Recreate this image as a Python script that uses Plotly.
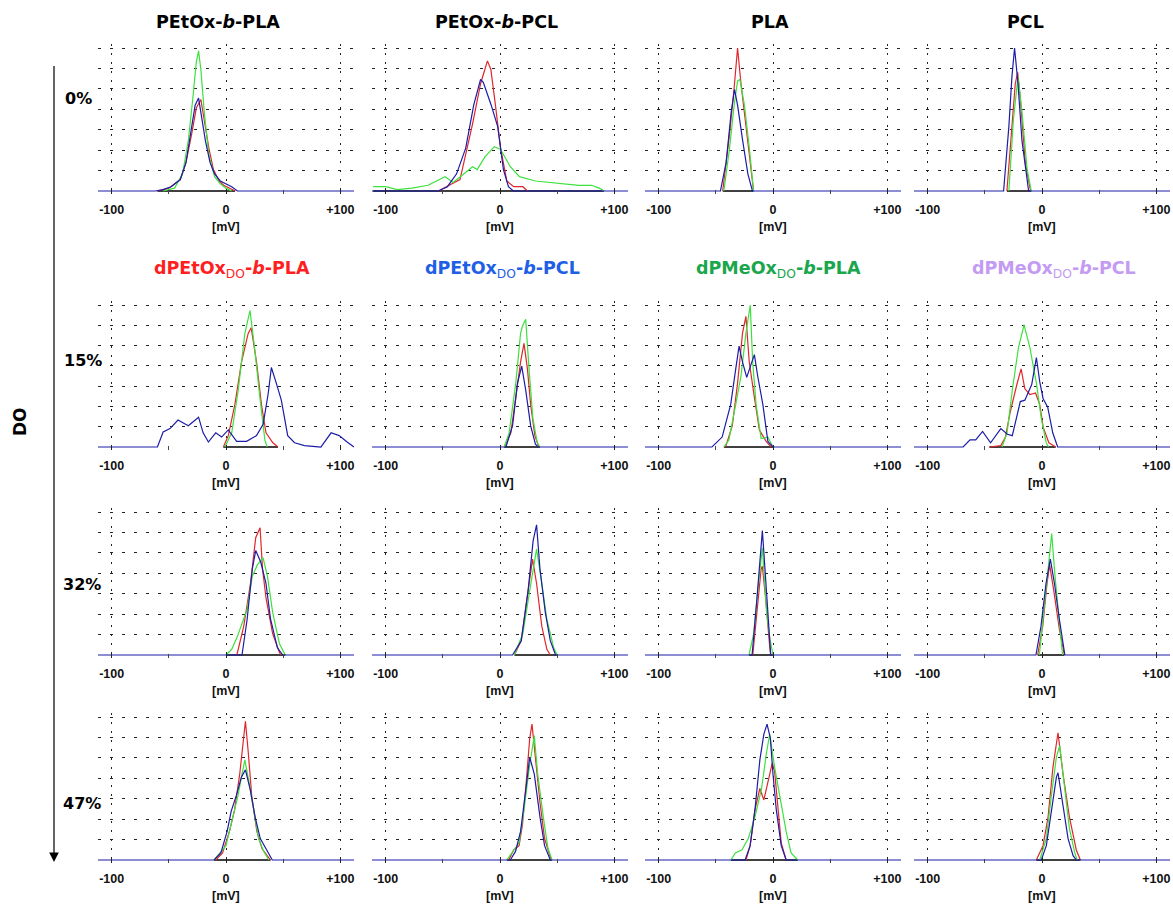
import plotly.graph_objects as go

W, H = 1173, 909

# ---------------- data (zeta potential in mV, normalized intensity) ----------------
# Row 0 (0 % DO)
r0c0_red_mv = [-60, -50, -40, -35, -30, -26, -22, -19, -15, -11, -6, -2, 3, 8]
r0c0_red_int = [0, 0.02, 0.08, 0.2, 0.4, 0.58, 0.64, 0.5, 0.3, 0.15, 0.07, 0.04, 0.02, 0]
r0c0_green_mv = [-55, -45, -38, -33, -29, -26, -24, -22, -19, -15, -10, -5, 0, 5]
r0c0_green_int = [0, 0.02, 0.12, 0.35, 0.65, 0.9, 0.98, 0.85, 0.55, 0.25, 0.1, 0.05, 0.02, 0]
r0c0_blue_mv = [-62, -55, -48, -40, -35, -31, -27, -24, -21, -18, -14, -10, -5, 0, 5, 10]
r0c0_blue_int = [0, 0.01, 0.03, 0.08, 0.2, 0.4, 0.6, 0.65, 0.5, 0.35, 0.2, 0.12, 0.07, 0.05, 0.03, 0]

r0c1_red_mv = [-54, -35, -24, -17, -11, -8, -4, 0.5, 6, 12, 20, 24]
r0c1_red_int = [0, 0.08, 0.47, 0.75, 0.91, 0.85, 0.6, 0.3, 0.07, 0.03, 0.03, 0]
r0c1_green_mv = [-111, -100, -90, -77, -63, -48, -41, -32, -24, -20, -13, -5, 0.5, 9, 17, 31, 42, 53, 69, 80, 87, 91]
r0c1_green_int = [0.03, 0.03, 0.01, 0.02, 0.04, 0.1, 0.06, 0.12, 0.17, 0.15, 0.24, 0.31, 0.29, 0.17, 0.1, 0.07, 0.06, 0.05, 0.04, 0.04, 0.02, 0]
r0c1_blue_mv = [-54, -46, -38, -30, -23, -17, -14.6, -7.7, -2, 3, 7.4, 11.6]
r0c1_blue_int = [0, 0.03, 0.12, 0.3, 0.6, 0.78, 0.76, 0.6, 0.45, 0.15, 0.03, 0]

r0c2_red_mv = [-44, -38, -34, -31, -28, -23.6, -19, -17]
r0c2_red_int = [0, 0.4, 0.72, 1.0, 0.75, 0.45, 0.1, 0]
r0c2_green_mv = [-43, -38, -34, -31, -29, -25, -20.7, -17]
r0c2_green_int = [0, 0.3, 0.6, 0.77, 0.78, 0.6, 0.3, 0]
r0c2_blue_mv = [-46, -41, -36.6, -33.7, -31, -26.5, -22, -18]
r0c2_blue_int = [0, 0.2, 0.55, 0.71, 0.6, 0.35, 0.12, 0]

r0c3_red_mv = [-30.7, -26.3, -23.4, -21.3, -19, -14.6, -10]
r0c3_red_int = [0, 0.45, 0.75, 0.83, 0.65, 0.2, 0]
r0c3_green_mv = [-29, -25, -21, -17.5, -13, -9.4]
r0c3_green_int = [0, 0.5, 0.8, 0.55, 0.15, 0]
r0c3_blue_mv = [-33.6, -29, -26.3, -24, -21, -17.5, -13, -11.7]
r0c3_blue_int = [0, 0.45, 0.8, 1.0, 0.75, 0.35, 0.05, 0]

# Row 1 (15 % DO)
r1c0_red_mv = [-2.3, 2, 7.8, 13.6, 19.4, 22, 26.7, 31, 35, 41, 45.5]
r1c0_red_int = [0, 0.08, 0.3, 0.6, 0.8, 0.84, 0.6, 0.3, 0.1, 0.03, 0]
r1c0_green_mv = [-1, 5, 10.7, 16.5, 21, 25, 29.6, 34, 36]
r1c0_green_int = [0, 0.1, 0.4, 0.8, 0.96, 0.7, 0.35, 0.05, 0]
r1c0_blue_mv = [-60, -55, -49, -42, -33, -24, -20, -15.4, -9, -3.8, 2, 9.3, 18, 26.7, 32.5, 37, 39.7, 44, 48.4,
                54, 60, 68.7, 83, 92, 99, 106, 112]
r1c0_blue_int = [0, 0.106, 0.13, 0.19, 0.15, 0.21, 0.1, 0.035, 0.1, 0.07, 0.12, 0.04, 0.04, 0.08, 0.16, 0.38, 0.56,
                 0.45, 0.33, 0.08, 0.03, 0.01, 0, 0.1, 0.08, 0.035, 0]

r1c1_red_mv = [3.7, 9.5, 13.8, 18, 21, 24, 26.8, 30.5, 34]
r1c1_red_int = [0, 0.1, 0.35, 0.6, 0.73, 0.55, 0.3, 0.08, 0]
r1c1_green_mv = [3.7, 8, 13.8, 18, 19.6, 22.5, 25.4, 28.8, 32.6, 35]
r1c1_green_int = [0, 0.1, 0.45, 0.8, 0.85, 0.9, 0.55, 0.2, 0.03, 0]
r1c1_blue_mv = [5.2, 11, 15.3, 19, 22.5, 26.8, 31, 33.4]
r1c1_blue_int = [0, 0.15, 0.45, 0.57, 0.4, 0.15, 0.02, 0]

r1c2_red_mv = [-41.5, -35.6, -31, -26.7, -23.7, -20.8, -16.3, -11.9, -6, -1.5]
r1c2_red_int = [0, 0.15, 0.45, 0.8, 0.92, 0.6, 0.35, 0.12, 0.04, 0]
r1c2_green_mv = [-43, -38.6, -32.6, -28, -23.7, -19.9, -17.8, -14.8, -10.4, -4.5, 0]
r1c2_green_int = [0, 0.05, 0.3, 0.5, 0.8, 1.0, 0.6, 0.3, 0.06, 0.07, 0]
r1c2_blue_mv = [-53.4, -44.5, -37, -32.6, -29.7, -26.7, -23, -19.3, -16.3, -13.4, -8.9, -4.5, 0]
r1c2_blue_int = [0, 0.07, 0.3, 0.55, 0.71, 0.6, 0.49, 0.58, 0.65, 0.5, 0.3, 0.04, 0]

r1c3_red_mv = [-46, -36, -32, -27.7, -22, -18.3, -15, -10.6, -5.7, -2, 1, 6, 12]
r1c3_red_int = [0, 0.01, 0.07, 0.25, 0.44, 0.55, 0.41, 0.37, 0.38, 0.3, 0.14, 0.03, 0]
r1c3_green_mv = [-35, -30.6, -26, -20.6, -15.7, -10.6, -4.9, -0.6, 3.7, 5.7]
r1c3_green_int = [0, 0.1, 0.4, 0.7, 0.86, 0.7, 0.45, 0.2, 0.03, 0]
r1c3_blue_mv = [-69, -63, -58, -52, -45, -36, -30.3, -26, -19, -15, -9, -4.9, -2, 1, 5, 9.4, 13.7]
r1c3_blue_int = [0, 0.05, 0.05, 0.11, 0.03, 0.13, 0.09, 0.08, 0.32, 0.33, 0.44, 0.63, 0.46, 0.34, 0.28, 0.1, 0]

# Row 2 (32 % DO)
r2c0_red_mv = [9.5, 15.5, 21.4, 26, 29.8, 32, 35, 40.8, 46.7, 48]
r2c0_red_int = [0, 0.2, 0.5, 0.82, 0.89, 0.6, 0.4, 0.15, 0.02, 0]
r2c0_green_mv = [0, 5, 9.5, 14, 18.5, 23, 27.4, 32.4, 36.3, 40.8, 46.7, 51.8]
r2c0_green_int = [0, 0.04, 0.12, 0.22, 0.32, 0.55, 0.63, 0.68, 0.55, 0.3, 0.08, 0]
r2c0_blue_mv = [14, 18.5, 23, 26, 30.4, 35, 39, 45, 49.7]
r2c0_blue_int = [0, 0.25, 0.6, 0.73, 0.65, 0.5, 0.25, 0.05, 0]

r2c1_red_mv = [12.6, 18.6, 24.6, 28.5, 32, 36.6, 41, 44]
r2c1_red_int = [0, 0.1, 0.45, 0.67, 0.5, 0.2, 0.04, 0]
r2c1_green_mv = [12.6, 20, 26, 32, 36.6, 41, 47, 50]
r2c1_green_int = [0, 0.15, 0.45, 0.74, 0.5, 0.25, 0.05, 0]
r2c1_blue_mv = [11, 18.6, 24.6, 29, 32, 35, 39.6, 44, 48.6]
r2c1_blue_int = [0, 0.1, 0.45, 0.8, 0.91, 0.6, 0.3, 0.1, 0]

r2c2_red_mv = [-17.7, -14, -10.4, -9.3, -6.5, -2.8, -2]
r2c2_red_int = [0, 0.3, 0.6, 0.62, 0.4, 0.05, 0]
r2c2_green_mv = [-21, -16.9, -12.7, -9.3, -5.6, -2.8, 0]
r2c2_green_int = [0, 0.15, 0.5, 0.75, 0.3, 0.12, 0]
r2c2_blue_mv = [-18.3, -14, -11.3, -9.3, -7, -4.2, -2]
r2c2_blue_int = [0, 0.4, 0.7, 0.87, 0.6, 0.25, 0]

r2c3_red_mv = [-3.8, 0.6, 4.4, 6.7, 10.3, 15.2, 19.6]
r2c3_red_int = [0, 0.2, 0.5, 0.63, 0.45, 0.18, 0]
r2c3_green_mv = [-2.3, 2, 5.6, 8.5, 11.4, 15.2, 18]
r2c3_green_int = [0, 0.35, 0.65, 0.85, 0.55, 0.25, 0]
r2c3_blue_mv = [-5.3, -0.9, 3.5, 7.3, 10.9, 15.2, 20]
r2c3_blue_int = [0, 0.2, 0.5, 0.67, 0.5, 0.25, 0]

# Row 3 (47 % DO)
r3c0_red_mv = [-9, -3, 3, 7.5, 12, 15, 17, 19.5, 22.5, 27, 31.5, 36, 39]
r3c0_red_int = [0, 0.05, 0.2, 0.35, 0.6, 0.85, 0.97, 0.75, 0.45, 0.2, 0.08, 0.03, 0]
r3c0_green_mv = [-10.5, -6, 0, 6, 10.5, 14, 16.5, 20, 24, 28.5, 33, 37.5]
r3c0_green_int = [0, 0.04, 0.1, 0.3, 0.45, 0.6, 0.7, 0.55, 0.35, 0.15, 0.06, 0]
r3c0_blue_mv = [-10.5, -4.5, 1, 4.5, 9, 13.5, 17, 21, 25.5, 30, 36, 40.5]
r3c0_blue_int = [0, 0.05, 0.2, 0.34, 0.45, 0.58, 0.63, 0.5, 0.3, 0.15, 0.07, 0]

r3c1_red_mv = [7.6, 12, 16.7, 19.7, 23, 26, 28, 31, 35, 39, 44, 45.5]
r3c1_red_int = [0, 0.07, 0.1, 0.25, 0.55, 0.85, 0.95, 0.7, 0.4, 0.15, 0.02, 0]
r3c1_green_mv = [6, 10.6, 16.7, 21, 25.7, 30, 33, 37.9, 42, 45.5]
r3c1_green_int = [0, 0.05, 0.12, 0.35, 0.65, 0.87, 0.6, 0.3, 0.08, 0]
r3c1_blue_mv = [9, 13.6, 18, 22.7, 26, 30, 35, 39, 44]
r3c1_blue_int = [0, 0.06, 0.2, 0.5, 0.72, 0.6, 0.3, 0.1, 0]

r3c2_red_mv = [-23.6, -20, -15.8, -11.5, -8, -4.3, -0.6, 1.4, 4.3, 7.2, 11.5]
r3c2_red_int = [0, 0.1, 0.35, 0.5, 0.42, 0.55, 0.68, 0.62, 0.35, 0.12, 0]
r3c2_green_mv = [-36.8, -33, -27.3, -21.6, -15.8, -10, -5.7, -2.9, 1.4, 5.7, 11.5, 15.8, 21.6]
r3c2_green_int = [0, 0.05, 0.07, 0.15, 0.3, 0.5, 0.75, 0.88, 0.65, 0.45, 0.2, 0.05, 0]
r3c2_blue_mv = [-24.4, -20, -15.8, -11.5, -8, -5.2, -2.3, 0, 2.9, 7.2, 11.5]
r3c2_blue_int = [0, 0.1, 0.35, 0.7, 0.88, 0.95, 0.85, 0.6, 0.35, 0.1, 0]

r3c3_red_mv = [-5, 0.9, 5.3, 9.6, 14, 18.4, 24, 30, 33.6]
r3c3_red_int = [0, 0.1, 0.3, 0.65, 0.89, 0.6, 0.3, 0.07, 0]
r3c3_green_mv = [-2, 3.8, 8.2, 12.6, 15.5, 19.9, 24, 28.7, 30.7]
r3c3_green_int = [0, 0.15, 0.45, 0.72, 0.8, 0.5, 0.22, 0.05, 0]
r3c3_blue_mv = [-0.6, 3.8, 8.2, 12.6, 14, 17.8, 22.8, 27.2, 30]
r3c3_blue_int = [0, 0.1, 0.35, 0.58, 0.61, 0.4, 0.15, 0.03, 0]

# ---------------- labels ----------------
SUB = "<sub><span style='font-weight:normal'>DO</span></sub>"
top_titles = ["PEtOx-<i>b</i>-PLA", "PEtOx-<i>b</i>-PCL", "PLA", "PCL"]
top_title_x = [218, 496, 770, 1025]
mid_titles = ["dPEtOx" + SUB + "-<i>b</i>-PLA", "dPEtOx" + SUB + "-<i>b</i>-PCL",
              "dPMeOx" + SUB + "-<i>b</i>-PLA", "dPMeOx" + SUB + "-<i>b</i>-PCL"]
mid_title_x = [232, 502, 778, 1054]
mid_title_colors = ["#ff1f1f", "#1f5fe6", "#19a64c", "#c39bf2"]
row_labels = ["0%", "15%", "32%", "47%"]
row_label_right = [94, 104, 103, 103]
row_label_y = [98, 360, 584, 803]
tick_vals = [-100, 0, 100]
tick_text = ["-100", "0", "+100"]
axis_unit = "[mV]"
axis_name = "DO"

series_colors = {"red": "#e0262a", "green": "#3ee03e", "blue": "#1c1ca8"}

g = globals()
fig = go.Figure()

col_center_px = [226, 500, 773, 1042]
half_w_px = 128
row_px = [(48, 191), (305, 447), (512, 655), (717, 860)]
XLIM = 112
YLO, YHI = -0.02, 1.03
NGRID = 7

layout = {}
annotations = []
for r in range(4):
    top, base = row_px[r]
    h = base - top
    for c in range(4):
        idx = r * 4 + c + 1
        sfx = "" if idx == 1 else str(idx)
        xa, ya = "x" + sfx, "y" + sfx
        cx = col_center_px[c]
        x0, x1 = (cx - half_w_px) / W, (cx + half_w_px) / W
        bot_px = base - YLO * h
        top_px = top - (YHI - 1) * h
        layout["xaxis" + sfx] = dict(
            domain=[x0, x1], range=[-XLIM, XLIM], anchor=ya,
            tickmode="array", tickvals=tick_vals, ticktext=tick_text,
            showgrid=True, gridcolor="#222", griddash="2px,7px", gridwidth=1,
            zeroline=False, showline=False,
            ticks="inside", ticklen=5, tickcolor="#222", tickwidth=1,
            minor=dict(tickmode="array", tickvals=[-50, 50], ticks="inside", ticklen=4,
                       tickcolor="#444", showgrid=False),
            tickfont=dict(family="Liberation Sans", size=12.5, color="#111", weight="bold"),
            ticklabelstandoff=7,
        )
        layout["yaxis" + sfx] = dict(
            domain=[1 - bot_px / H, 1 - top_px / H], range=[YLO, YHI], anchor=xa,
            tickmode="array", tickvals=[k / NGRID for k in range(1, NGRID + 1)],
            showticklabels=False, ticks="",
            showgrid=True, gridcolor="#222", griddash="3px,9px", gridwidth=1,
            zeroline=False, showline=False,
        )
        key = f"r{r}c{c}"
        rx, ry = g[key + "_red_mv"], g[key + "_red_int"]
        gx, gy = g[key + "_green_mv"], g[key + "_green_int"]
        bx, by = g[key + "_blue_mv"], g[key + "_blue_int"]
        lo = min(rx[0], gx[0])
        hi = max(rx[-1], gx[-1])
        fig.add_trace(go.Scatter(x=[lo, hi], y=[0, 0], mode="lines", xaxis=xa, yaxis=ya,
                                 line=dict(color="black", width=1.3), showlegend=False, hoverinfo="skip"))
        fig.add_trace(go.Scatter(x=rx, y=ry, mode="lines", xaxis=xa, yaxis=ya,
                                 line=dict(color=series_colors["red"], width=1.2), showlegend=False))
        fig.add_trace(go.Scatter(x=gx, y=gy, mode="lines", xaxis=xa, yaxis=ya,
                                 line=dict(color=series_colors["green"], width=1.2), showlegend=False))
        fig.add_trace(go.Scatter(x=[-XLIM] + bx + [XLIM], y=[0] + by + [0], mode="lines", xaxis=xa, yaxis=ya,
                                 line=dict(color=series_colors["blue"], width=1.2), showlegend=False))
        annotations.append(dict(text=axis_unit, xref="paper", yref="paper", x=cx / W, y=1 - (base + 36) / H,
                                showarrow=False, xanchor="center", yanchor="middle",
                                font=dict(family="Liberation Sans", size=12.5, color="#111", weight="bold")))

for c in range(4):
    annotations.append(dict(text=top_titles[c], xref="paper", yref="paper", x=top_title_x[c] / W, y=1 - 22 / H,
                            showarrow=False, xanchor="center", yanchor="middle",
                            font=dict(family="DejaVu Sans", size=17.5, color="black", weight="bold")))
    annotations.append(dict(text=mid_titles[c], xref="paper", yref="paper", x=mid_title_x[c] / W, y=1 - 269 / H,
                            showarrow=False, xanchor="center", yanchor="middle",
                            font=dict(family="DejaVu Sans", size=17.5, color=mid_title_colors[c], weight="bold")))
for r in range(4):
    annotations.append(dict(text=row_labels[r], xref="paper", yref="paper", x=row_label_right[r] / W,
                            y=1 - row_label_y[r] / H, showarrow=False, xanchor="right", yanchor="middle",
                            font=dict(family="DejaVu Sans", size=16, color="black", weight="bold")))
annotations.append(dict(text=axis_name, xref="paper", yref="paper", x=20 / W, y=1 - 422 / H, textangle=-90,
                        showarrow=False, xanchor="center", yanchor="middle",
                        font=dict(family="DejaVu Sans", size=17, color="black", weight="bold")))
annotations.append(dict(text=" ", xref="paper", yref="paper", x=54 / W, y=1 - 862 / H,
                        showarrow=True, axref="pixel", ayref="pixel", ax=0, ay=-806,
                        arrowhead=2, arrowsize=1.6, arrowwidth=1.2, arrowcolor="black"))

fig.update_layout(
    width=W, height=H, margin=dict(l=0, r=0, t=0, b=0),
    paper_bgcolor="white", plot_bgcolor="white",
    annotations=annotations, **layout,
)
fig.write_html("out.html")
